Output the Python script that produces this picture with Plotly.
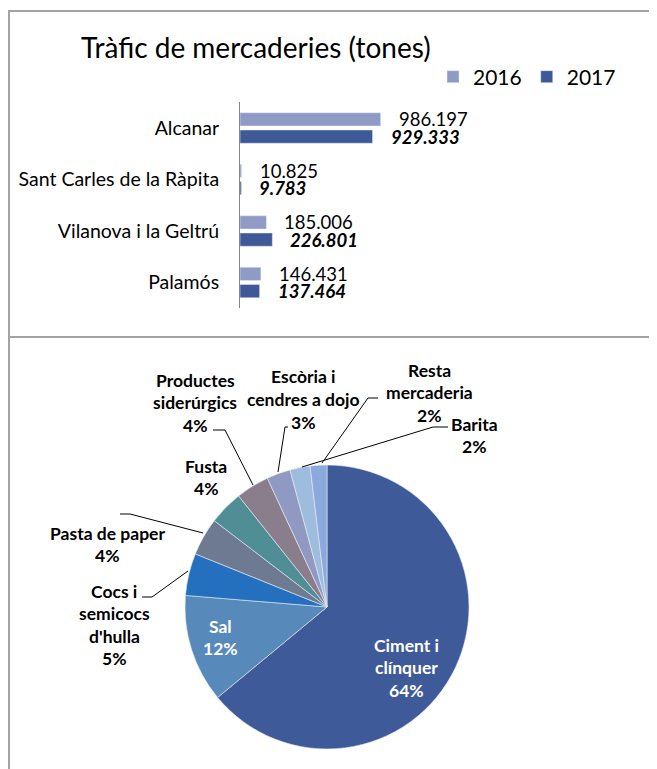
import plotly.graph_objects as go

# ---------------- data ----------------
ports = ["Alcanar", "Sant Carles de la Ràpita", "Vilanova i la Geltrú", "Palamós"]
years = ["2016", "2017"]
tonnes_2016 = [986197, 10825, 185006, 146431]
tonnes_2017 = [929333, 9783, 226801, 137464]

goods = ["Ciment i clínquer", "Sal", "Cocs i semicocs d'hulla", "Pasta de paper",
         "Fusta", "Productes siderúrgics", "Escòria i cendres a dojo",
         "Resta mercaderia", "Barita"]
goods_share = [64.0, 12.3, 4.8, 4.3, 3.9, 3.8, 2.7, 2.3, 1.9]
goods_label_lines = [
    ["Ciment i", "clínquer", "64%"],
    ["Sal", "12%"],
    ["Cocs i", "semicocs", "d'hulla", "5%"],
    ["Pasta de paper", "4%"],
    ["Fusta", "4%"],
    ["Productes", "siderúrgics", "4%"],
    ["Escòria i", "cendres a dojo", "3%"],
    ["Resta", "mercaderia", "2%"],
    ["Barita", "2%"],
]

title_text = "Tràfic de mercaderies (tones)"

# ---------------- styles / layout ----------------
W, H = 657, 769
OFF = 8  # page body margin offset of the figure div
FONT = "Lato"
C2016 = "#909BC5"
C2017 = "#3F5998"
pie_colors = ["#3F5A99", "#5789BA", "#2470BF", "#6E7A91", "#4E8E94",
              "#8A7D8C", "#9099C2", "#9EBCDD", "#8BA9DC"]


def px(x, y):
    """page pixel -> paper coordinates"""
    return (x - OFF) / W, (H - (y - OFF)) / H


def fmt(v):
    return f"{v:,}".replace(",", ".")


fig = go.Figure()

fig.add_trace(go.Bar(
    name=years[0], y=ports, x=tonnes_2016, orientation="h",
    marker=dict(color=C2016), hoverinfo="skip", xaxis="x", yaxis="y"))
fig.add_trace(go.Bar(
    name=years[1], y=ports, x=tonnes_2017, orientation="h",
    marker=dict(color=C2017), hoverinfo="skip", xaxis="x", yaxis="y"))

# pie
pie_x0, pie_x1 = px(185, 0)[0], px(469, 0)[0]
pie_y0, pie_y1 = px(0, 749)[1], px(0, 465)[1]
fig.add_trace(go.Pie(
    labels=goods, values=goods_share, sort=False, direction="clockwise",
    rotation=0, textinfo="none", hoverinfo="skip", showlegend=False,
    marker=dict(colors=pie_colors, line=dict(color="#E8EDF5", width=0.6)),
    domain=dict(x=[pie_x0, pie_x1], y=[pie_y0, pie_y1])))

annotations = []
# title
tx, ty = px(79, 47)
annotations.append(dict(text=title_text, x=tx, y=ty, xref="paper", yref="paper",
                        xanchor="left", yanchor="middle", showarrow=False,
                        font=dict(family=FONT, size=28, color="#000")))

# bar value labels
for i, p in enumerate(ports):
    annotations.append(dict(text=fmt(tonnes_2016[i]), x=tonnes_2016[i], y=p,
                            xref="x", yref="y", xanchor="left", yanchor="middle",
                            xshift=16, yshift=8.7, showarrow=False,
                            font=dict(family=FONT, size=18.5, color="#000")))
    annotations.append(dict(text="<b><i>" + fmt(tonnes_2017[i]) + "</i></b>",
                            x=tonnes_2017[i], y=p,
                            xref="x", yref="y", xanchor="left", yanchor="middle",
                            xshift=16, yshift=-8.7, showarrow=False,
                            font=dict(family=FONT, size=18.5, color="#000")))

# pie labels (center x, first line center y)
label_pos = [(406, 645), (220, 626), (114, 591), (107, 533), (206, 466),
             (195, 380), (303, 377), (429, 370), (474, 424)]
label_col = ["#FFFFFF", "#FFFFFF"] + ["#000000"] * 7
LS = 22.6
for lines, (cx, cy), col in zip(goods_label_lines, label_pos, label_col):
    for k, ln in enumerate(lines):
        ax, ay = px(cx, cy + k * LS)
        annotations.append(dict(text="<b>" + ln + "</b>", x=ax, y=ay,
                                xref="paper", yref="paper", xanchor="center",
                                yanchor="middle", showarrow=False,
                                font=dict(family=FONT, size=17.5, color=col)))

shapes = []
# frame lines
border = "#A3A3A3"
for (x0, y0, x1, y1) in [(9, 11, 9, 780), (8, 11, 670, 11), (8, 337, 670, 337)]:
    a0, b0 = px(x0, y0)
    a1, b1 = px(x1, y1)
    shapes.append(dict(type="line", xref="paper", yref="paper", x0=a0, y0=b0,
                       x1=a1, y1=b1, line=dict(color=border, width=2)))

# leader lines
leaders = [
    [(142, 597), (152, 597), (188, 571)],
    [(120, 514), (130, 514), (203, 533)],
    [(213, 430), (225, 430), (253, 485)],
    [(288, 427), (285, 427), (278, 472)],
    [(378, 398), (368, 398), (322, 463)],
    [(448, 427), (433, 427), (302, 467)],
]
for pts in leaders:
    for (xa, ya), (xb, yb) in zip(pts[:-1], pts[1:]):
        a0, b0 = px(xa, ya)
        a1, b1 = px(xb, yb)
        shapes.append(dict(type="line", xref="paper", yref="paper", x0=a0, y0=b0,
                           x1=a1, y1=b1, line=dict(color="#000000", width=1)))

lx, ly = px(433, 77)
fig.update_layout(
    width=W, height=H,
    margin=dict(l=0, r=0, t=0, b=0),
    paper_bgcolor="white", plot_bgcolor="white",
    barmode="group", bargap=0.33, bargroupgap=0.23,
    xaxis=dict(domain=[px(240, 0)[0], 1.0], range=[0, 2980000], visible=False,
               fixedrange=True),
    yaxis=dict(domain=[px(0, 308.25)[1], px(0, 102.25)[1]],
               autorange="reversed", showline=True, linecolor="#868686",
               linewidth=1, ticks="", showgrid=False, zeroline=False,
               ticklabelstandoff=16,
               tickfont=dict(family=FONT, size=19.5, color="#000"),
               fixedrange=True),
    legend=dict(orientation="h", x=lx, y=ly, xanchor="left", yanchor="middle",
                font=dict(family=FONT, size=21, color="#000"),
                bgcolor="rgba(0,0,0,0)", itemclick=False),
    showlegend=True,
    annotations=annotations,
    shapes=shapes,
    font=dict(family=FONT),
)

fig.write_html("out.html")
